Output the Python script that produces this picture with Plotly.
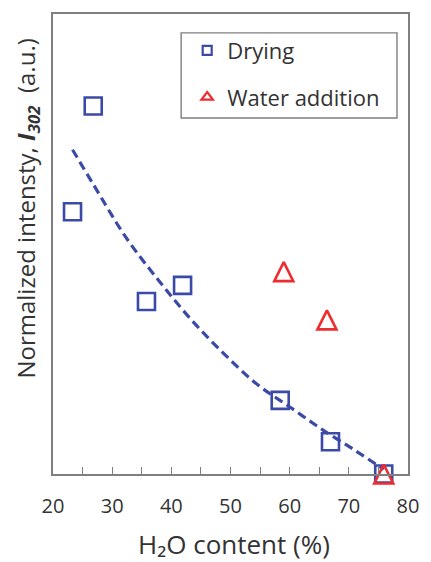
import plotly.graph_objects as go

# Drying series: H2O content (%) and normalized intensity I302 (a.u.)
drying_x = [26.8, 23.3, 35.8, 41.9, 58.4, 66.9, 75.9]
drying_y = [2.60, 2.14, 1.75, 1.82, 1.32, 1.14, 1.00]

# Water addition series
water_x = [59.0, 66.3, 75.9]
water_y = [1.88, 1.67, 1.00]

# Trend curve through the drying data
trend_x = [23.3, 26.8, 32.3, 37.9, 43.4, 49.0, 54.5, 60.1, 65.7, 71.2, 75.9]
trend_y = [2.41, 2.26, 2.03, 1.84, 1.67, 1.52, 1.39, 1.29, 1.19, 1.10, 1.02]

x_ticks = [20, 30, 40, 50, 60, 70, 80]

BLUE = "#3B4AA6"
RED = "#EE2B2E"
GRAY = "#7F7F7F"
TEXT = "#333333"
FONT = "Open Sans"

fig = go.Figure()

fig.add_trace(go.Scatter(
    x=trend_x, y=trend_y, mode="lines",
    line=dict(color=BLUE, width=3.2, dash="9px,5px", shape="spline"),
    showlegend=False, hoverinfo="skip", cliponaxis=False,
))

fig.add_trace(go.Scatter(
    x=drying_x, y=drying_y, mode="markers",
    marker=dict(symbol="square-open", size=17, color=BLUE, line=dict(width=2.6)),
    showlegend=False, cliponaxis=False,
))

# upward triangle: arrow-down flipped and shifted so it is centred on the point
fig.add_trace(go.Scatter(
    x=water_x, y=water_y, mode="markers",
    marker=dict(symbol="arrow-down-open", size=19, angle=180, standoff=9.5,
                color=RED, line=dict(width=2.6)),
    showlegend=False, cliponaxis=False,
))

# legend keys
fig.add_trace(go.Scatter(
    x=[None], y=[None], mode="markers", name="Drying", legendgroup="d",
    marker=dict(symbol="square-open", size=9, color=BLUE, line=dict(width=2.2)),
))
fig.add_trace(go.Scatter(
    x=[None], y=[None], mode="markers", name="Water addition", legendgroup="w",
    marker=dict(symbol="triangle-up-open", size=10, color=RED, line=dict(width=2.2)),
))

fig.update_layout(
    width=431, height=562,
    margin=dict(l=53, r=18, t=12, b=88),
    paper_bgcolor="white", plot_bgcolor="white",
    font=dict(family=FONT, color=TEXT),
    showlegend=True,
    legend=dict(
        x=0.378, y=0.966, xanchor="left", yanchor="top",
        bgcolor="rgba(0,0,0,0)", borderwidth=0,
        traceorder="grouped", tracegroupgap=15,
        font=dict(family=FONT, size=22, color=TEXT),
    ),
    xaxis=dict(
        range=[20, 80], tickvals=x_ticks, ticks="inside", ticklen=7,
        tickcolor=GRAY, tickwidth=1.3,
        minor=dict(dtick=5, ticks="inside", ticklen=7, tickcolor=GRAY, tickwidth=1.3),
        showline=True, linecolor=GRAY, linewidth=1.6, mirror=True,
        showgrid=False, zeroline=False,
        tickfont=dict(family=FONT, size=20, color=TEXT),
        ticklabelstandoff=13,
    ),
    yaxis=dict(
        range=[1.0, 3.0], showticklabels=False, ticks="",
        showline=True, linecolor=GRAY, linewidth=1.6, mirror=True,
        showgrid=False, zeroline=False,
    ),
    shapes=[dict(
        type="rect", xref="paper", yref="paper",
        x0=0.361, x1=0.969, y0=0.774, y1=0.959,
        line=dict(color=GRAY, width=1.4), fillcolor="rgba(0,0,0,0)",
    )],
    annotations=[
        dict(
            text="H₂O content (%)", xref="paper", yref="paper",
            x=0.51, y=-0.152, xanchor="center", yanchor="middle", showarrow=False,
            font=dict(family=FONT, size=26, color=TEXT),
        ),
        dict(
            text="Normalized intensty, <b><i>I</i></b><sub><b><i>302</i></b></sub>&nbsp; (a.u.)",
            xref="paper", yref="paper", x=-0.072, y=0.578,
            xanchor="center", yanchor="middle", textangle=-90, showarrow=False,
            font=dict(family=FONT, size=24, color=TEXT),
        ),
    ],
)

fig.write_html("out.html")
